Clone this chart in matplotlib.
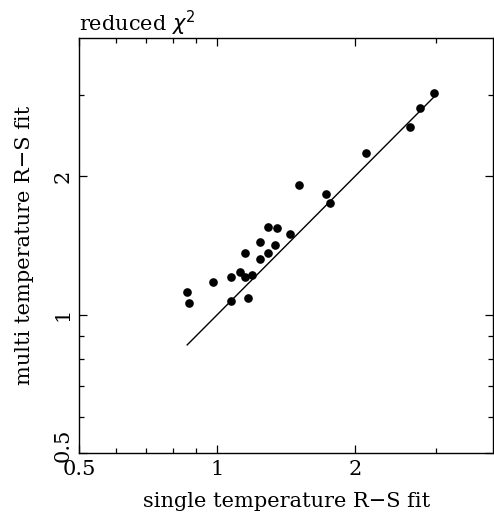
import numpy as np
import matplotlib
matplotlib.use('Agg')
import matplotlib.pyplot as plt
from matplotlib.transforms import ScaledTranslation

# reduced chi^2 values
single_fit = [2.98, 2.77, 2.63, 2.11, 1.51, 1.73, 1.76, 1.29, 1.35, 1.44,
              1.24, 1.34, 1.15, 1.29, 1.24, 0.98, 1.07, 1.12, 1.15, 1.19,
              0.86, 0.87, 1.07, 1.17]
multi_fit = [3.03, 2.81, 2.56, 2.25, 1.91, 1.83, 1.75, 1.55, 1.54, 1.50,
             1.44, 1.42, 1.36, 1.36, 1.32, 1.18, 1.21, 1.24, 1.21, 1.22,
             1.12, 1.06, 1.07, 1.09]
line_ends = [0.86, 3.0]

major_ticks = [0.5, 1, 2]
major_labels = ['0.5', '1', '2']
minor_ticks = [0.6, 0.7, 0.8, 0.9, 3]

plt.rcParams['font.family'] = ['DejaVu Serif']
fs = 15

fig = plt.figure(figsize=(4.94, 5.17), dpi=100)
ax = fig.add_axes([0.1605, 0.1232, 0.8375, 0.804])

ax.plot(line_ends, line_ends, color='black', lw=1.0)
ax.plot(single_fit, multi_fit, 'o', color='black', ms=5.2, mec='black')

ax.set_xscale('log')
ax.set_yscale('log')
ax.set_xlim(0.5, 4)
ax.set_ylim(0.5, 4)

for axis in (ax.xaxis, ax.yaxis):
    axis.set_major_locator(matplotlib.ticker.FixedLocator(major_ticks))
    axis.set_major_formatter(matplotlib.ticker.FixedFormatter(major_labels))
    axis.set_minor_locator(matplotlib.ticker.FixedLocator(minor_ticks))
    axis.set_minor_formatter(matplotlib.ticker.NullFormatter())

ax.tick_params(which='both', direction='in', top=True, right=True,
               labelsize=fs, width=0.9, color='black')
ax.tick_params(which='major', length=6)
ax.tick_params(which='minor', length=3.5)
ax.tick_params(axis='x', pad=5)
ax.tick_params(axis='y', pad=5)
for lab in ax.get_yticklabels():
    lab.set_rotation(90)
    lab.set_va('center')
# nudge the lower y label up so it clears the x "0.5"
ylabs = ax.get_yticklabels()
ylabs[0].set_transform(ylabs[0].get_transform() +
                       ScaledTranslation(0, 6 / 72, fig.dpi_scale_trans))

for sp in ax.spines.values():
    sp.set_linewidth(1.0)

ax.set_xlabel('single temperature R\u2212S fit', fontsize=fs, labelpad=9)
ax.set_ylabel('multi temperature R\u2212S fit', fontsize=fs, labelpad=14)
ax.set_title(r'reduced $\chi^2$', fontsize=fs, loc='left', pad=4)

fig.savefig('out.png', dpi=100)
